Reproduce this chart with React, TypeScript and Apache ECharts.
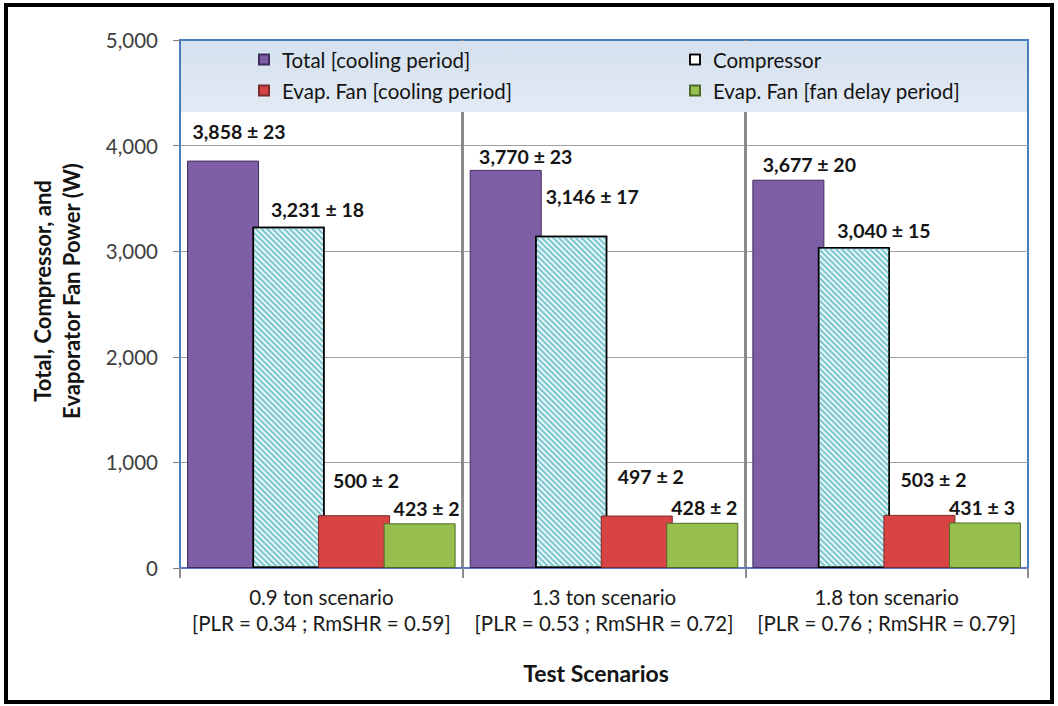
import React, { useEffect, useRef } from "react";
import * as echarts from "echarts";

// Test scenarios (x-axis categories)
const categories = [
  "0.9 ton scenario\n[PLR = 0.34 ; RmSHR = 0.59]",
  "1.3 ton scenario\n[PLR = 0.53 ; RmSHR = 0.72]",
  "1.8 ton scenario\n[PLR = 0.76 ; RmSHR = 0.79]",
];

// Mean power (W) and uncertainty (W) for each series
const totalPower = [3858, 3770, 3677];
const totalErr = [23, 23, 20];
const compressorPower = [3231, 3146, 3040];
const compressorErr = [18, 17, 15];
const fanCoolingPower = [500, 497, 503];
const fanCoolingErr = [2, 2, 2];
const fanDelayPower = [423, 428, 431];
const fanDelayErr = [2, 2, 3];

// Y-axis ticks
const yMin = 0;
const yMax = 5000;
const yStep = 1000;

// Value-label nudges [dx, dy] per bar, so labels sit clear of neighbours
const totalShift = [[16, -14], [20, 2], [21, 0]];
const compressorShift = [[29, -2], [21, -24], [30, -1]];
const fanCoolingShift = [[12, -20], [14, -24], [14, -20]];
const fanDelayShift = [[7, 0], [2, 0], [-3, 0]];

const FONT = "Lato";

const fmt = (v: number, e: number) => `${v.toLocaleString("en-US")} ± ${e}`;

function barSeries(
  name: string,
  values: number[],
  errs: number[],
  shifts: number[][],
  itemStyle: any
) {
  return {
    type: "bar",
    name,
    barWidth: 72,
    barGap: "-9%",
    data: values.map((v, i) => ({ value: v, label: { offset: shifts[i] } })),
    itemStyle,
    label: {
      show: true,
      position: "top",
      distance: 5,
      formatter: (p: any) => fmt(values[p.dataIndex], errs[p.dataIndex]),
      fontFamily: FONT,
      fontWeight: "bold",
      fontSize: 19.5,
      color: "#141414",
    },
    emphasis: { disabled: true },
  };
}

export default function App() {
  const ref = useRef<HTMLDivElement>(null);

  useEffect(() => {
    if (!ref.current) return;
    const chart = echarts.init(ref.current, undefined, { renderer: "svg" });

    const legendText = { fontFamily: FONT, fontSize: 20.5, color: "#141414", padding: [0, 0, 0, 8] };
    const titleText = { fontFamily: FONT, fontWeight: "bold", fontSize: 22, color: "#141414" };

    chart.setOption({
      animation: false,
      backgroundColor: "#ffffff",
      textStyle: { fontFamily: FONT },
      grid: {
        left: 180,
        right: 30,
        top: 40,
        bottom: 138,
        show: true,
        backgroundColor: "#ffffff",
        borderColor: "#4a7ebb",
        borderWidth: 2,
      },
      legend: [
        {
          left: 258,
          top: 49,
          padding: 0,
          orient: "vertical",
          itemGap: 10,
          itemWidth: 10,
          itemHeight: 10,
          icon: "rect",
          selectedMode: false,
          textStyle: legendText,
          data: ["Total [cooling period]", "Evap. Fan [cooling period]"],
        },
        {
          left: 689,
          top: 49,
          padding: 0,
          orient: "vertical",
          itemGap: 10,
          itemWidth: 10,
          itemHeight: 10,
          icon: "rect",
          selectedMode: false,
          textStyle: legendText,
          data: [
            {
              name: "Compressor",
              itemStyle: {
                color: "#ffffff",
                borderColor: "#000000",
                borderWidth: 1.5,
                decal: { color: "rgba(0,0,0,0)", backgroundColor: "#ffffff" },
              },
            },
            "Evap. Fan [fan delay period]",
          ],
        },
      ],
      xAxis: {
        type: "category",
        data: categories,
        name: "Test Scenarios",
        nameLocation: "middle",
        nameGap: 93,
        nameTextStyle: { ...titleText, fontSize: 23, padding: [0, 16, 0, 0] },
        axisLine: { show: true, lineStyle: { color: "#5a78c0", width: 2 } },
        axisTick: { show: true, length: 10, lineStyle: { color: "#8c8c8c", width: 2 } },
        axisLabel: {
          interval: 0,
          margin: 16,
          fontFamily: FONT,
          fontSize: 20.5,
          lineHeight: 26,
          color: "#1a1a1a",
        },
        splitLine: {
          show: true,
          showMinLine: false,
          showMaxLine: false,
          lineStyle: { color: "#8c8c8c", width: 3 },
        },
      },
      yAxis: {
        type: "value",
        min: yMin,
        max: yMax,
        interval: yStep,
        name: "Total, Compressor, and\nEvaporator Fan Power (W)",
        nameLocation: "middle",
        nameGap: 94,
        nameTextStyle: { ...titleText, lineHeight: 29, padding: [0, 0, 0, 26] },
        axisLine: { show: true, lineStyle: { color: "#4a7ebb", width: 2 } },
        axisTick: { show: true, length: 7, lineStyle: { color: "#7f7f7f" } },
        axisLabel: {
          margin: 22,
          fontFamily: FONT,
          fontSize: 20.5,
          color: "#404040",
          formatter: (v: number) => v.toLocaleString("en-US"),
        },
        splitLine: {
          show: true,
          showMaxLine: false,
          lineStyle: { color: "#a0a0a0", width: 1 },
        },
      },
      series: [
        barSeries("Total [cooling period]", totalPower, totalErr, totalShift, {
          color: "#7e5fa6",
          borderColor: "#3e2a5c",
          borderWidth: 1,
        }),
        barSeries("Compressor", compressorPower, compressorErr, compressorShift, {
          color: "#e8f7f8",
          borderColor: "#000000",
          borderWidth: 1.5,
          decal: {
            symbol: "rect",
            symbolSize: 1,
            color: "#7cc6cf",
            backgroundColor: "#eef9fa",
            dashArrayX: [1, 0],
            dashArrayY: [1.5, 2],
            rotation: Math.PI / 4,
          },
        }),
        barSeries("Evap. Fan [cooling period]", fanCoolingPower, fanCoolingErr, fanCoolingShift, {
          color: "#d84444",
          borderColor: "#7a2b2a",
          borderWidth: 1,
        }),
        barSeries("Evap. Fan [fan delay period]", fanDelayPower, fanDelayErr, fanDelayShift, {
          color: "#96bf4e",
          borderColor: "#4f6a28",
          borderWidth: 1,
        }),
      ],
      graphic: [
        // shaded legend band across the top of the plot
        {
          type: "rect",
          z: 3,
          silent: true,
          shape: { x: 181, y: 41, width: 846, height: 71 },
          style: {
            fill: new echarts.graphic.LinearGradient(0, 0, 0, 1, [
              { offset: 0, color: "#d5e1ef" },
              { offset: 1, color: "#e2eaf4" },
            ]),
          },
        },
        // outer frame
        {
          type: "rect",
          z: 10,
          silent: true,
          shape: { x: 6, y: 5, width: 1046, height: 697 },
          style: { fill: "none", stroke: "#000000", lineWidth: 4 },
        },
      ],
    });

    return () => chart.dispose();
  }, []);

  return (
    <div
      ref={ref}
      style={{ position: "fixed", left: 0, top: 0, width: 1058, height: 706 }}
    />
  );
}
